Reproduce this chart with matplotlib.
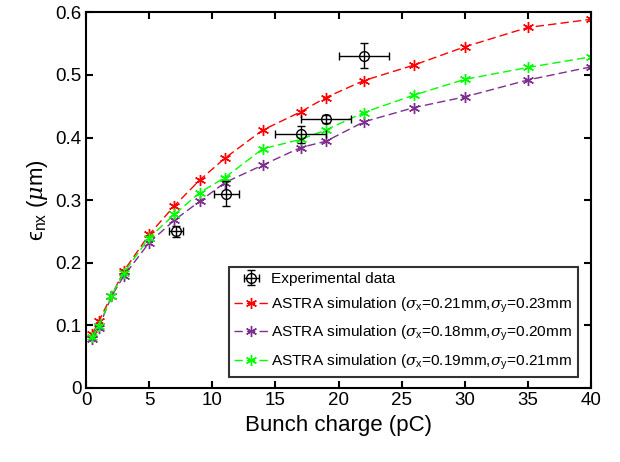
import matplotlib
matplotlib.use("Agg")
import matplotlib.pyplot as plt

# ── data ──
charge = [0.5, 1, 2, 3, 5, 7, 9, 11, 14, 17, 19, 22, 26, 30, 35, 40]
emit_021 = [0.086, 0.106, 0.147, 0.187, 0.245, 0.291, 0.332, 0.367, 0.412, 0.441, 0.464, 0.491, 0.516, 0.545, 0.576, 0.589]
emit_018 = [0.077, 0.096, 0.146, 0.179, 0.232, 0.268, 0.298, 0.328, 0.356, 0.384, 0.394, 0.425, 0.448, 0.465, 0.492, 0.513]
emit_019 = [0.081, 0.098, 0.147, 0.184, 0.240, 0.277, 0.312, 0.336, 0.382, 0.397, 0.412, 0.440, 0.468, 0.493, 0.512, 0.529]

exp_q = [7.1, 11.1, 17.0, 19.0, 22.0]
exp_emit = [0.250, 0.310, 0.405, 0.430, 0.531]
exp_qerr = [0.55, 1.0, 2.0, 2.0, 2.0]
exp_eerr = [0.009, 0.020, 0.014, 0.006, 0.020]

plt.rcParams.update({
    "font.family": ["Liberation Sans", "DejaVu Sans"],
    "mathtext.fontset": "custom",
    "mathtext.rm": "Liberation Sans",
    "mathtext.it": "DejaVu Serif:italic",
})

fig = plt.figure(figsize=(6.2, 4.62), dpi=100)
ax = fig.add_axes([0.139, 0.161, 0.814, 0.812])

h_exp = ax.errorbar(exp_q, exp_emit, xerr=exp_qerr, yerr=exp_eerr, fmt="o", color="black",
                    mfc="none", ms=7, mew=1.0, elinewidth=1.0, capsize=3, capthick=1.0,
                    label="Experimental data", zorder=5)

sim = [
    (emit_021, "#ff0000", r"ASTRA simulation ($\sigma_{\mathrm{x}}$=0.21mm,$\sigma_{\mathrm{y}}$=0.23mm"),
    (emit_018, "#7e2f8e", r"ASTRA simulation ($\sigma_{\mathrm{x}}$=0.18mm,$\sigma_{\mathrm{y}}$=0.20mm"),
    (emit_019, "#00ff00", r"ASTRA simulation ($\sigma_{\mathrm{x}}$=0.19mm,$\sigma_{\mathrm{y}}$=0.21mm"),
]
handles = [h_exp]
for vals, col, lab in sim:
    ln, = ax.plot(charge, vals, color=col, lw=1.0, dashes=(6, 3), marker=(6, 2, 0),
                  ms=8, mew=1.0, label=lab)
    handles.append(ln)

ax.set_xlim(0, 40)
ax.set_ylim(0, 0.6)
ax.set_xticks(range(0, 41, 5))
ax.set_yticks([0, 0.1, 0.2, 0.3, 0.4, 0.5, 0.6])
ax.set_yticklabels(["0", "0.1", "0.2", "0.3", "0.4", "0.5", "0.6"])
ax.tick_params(direction="in", top=True, right=True, labelsize=13.5, width=1.5, length=5)
for s in ax.spines.values():
    s.set_linewidth(1.5)

ax.set_xlabel("Bunch charge (pC)", fontsize=16)
ax.set_ylabel("ϵ$_{\\mathrm{nx}}$ ($\\mu$m)", fontsize=16)

leg = ax.legend(handles=handles, loc="lower right", fontsize=11.1, frameon=True, fancybox=False,
                edgecolor="black", handlelength=2.2, handletextpad=0.2,
                borderpad=0.35, labelspacing=0.6, borderaxespad=0,
                bbox_to_anchor=(0.974, 0.028))
leg.get_frame().set_linewidth(1.5)

fig.savefig("out.png", dpi=100)
